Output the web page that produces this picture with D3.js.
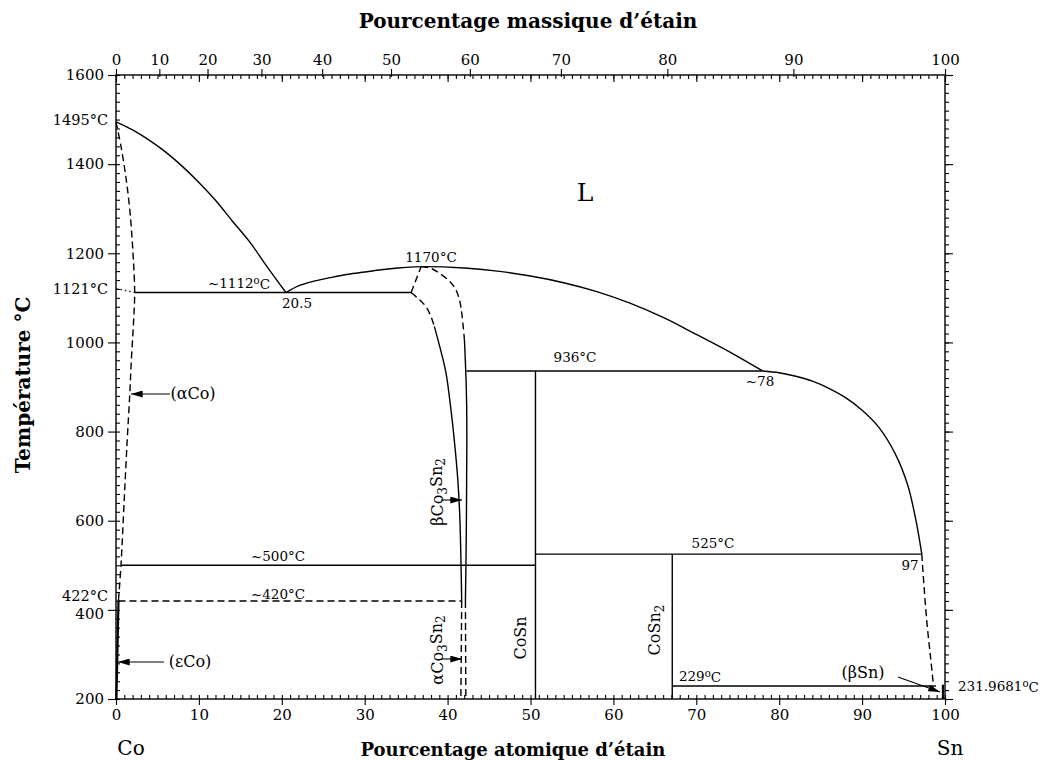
<!DOCTYPE html>
<html><head><meta charset="utf-8">
<script src="https://cdn.jsdelivr.net/npm/d3@7"></script>
<style>
body{margin:0;background:#fff}
svg{display:block}
text{font-family:"DejaVu Serif",serif;fill:#000}
</style></head><body>
<svg id="c" width="1043" height="760"></svg>
<script>
// ---------- data ----------
const atTicks = [0,10,20,30,40,50,60,70,80,90,100];
const wtTicks = [0,10,20,30,40,50,60,70,80,90,100];
const tempTicks = [200,400,600,800,1000,1200,1400,1600];

const liquidusCo = [[0,1495],[2,1477],[4,1454],[6,1427],[8,1395],[10,1359],[12,1319],[14,1273],[16.1,1226],[18.3,1168],[20.5,1112]];
const liquidusMid = [[20.5,1112],[22,1127],[24,1138],[26,1146],[28,1153],[30,1158],[32,1163],[34,1167],[36,1169.5],[37,1170],[42,1167],[46,1160],[50,1149],[54,1134],[58,1114],[62,1088],[66,1056],[70,1018],[74,979],[78,936]];
const liquidusSn = [[78,936],[80,932],[82,924],[84,913],[86,897],[88,876],[90,848],[92,810],[94,750],[95.5,680],[96.5,600],[97.2,525]];
const liquidusSnDash = [[97.2,525],[97.5,445],[97.85,365],[98.25,295],[98.6,232]];
const alphaCoSolvus = [[0,1495],[0.6,1440],[1.2,1370],[1.7,1290],[2.05,1200],[2.25,1112],[2.1,1040],[1.85,960],[1.65,880],[1.35,780],[1.0,650],[0.6,500],[0.3,422]];
const epsCo = [[0.05,200],[0.3,422]];
const co3sn2LeftDash = [[35.6,1112],[36.6,1096],[37.4,1080],[38.0,1058],[38.4,1036]];
const co3sn2LeftSolid = [[38.4,1036],[39.2,980],[39.8,932],[40.4,850],[40.8,782],[41.2,700],[41.45,620],[41.6,520],[41.7,420]];
const co3sn2LeftLow = [[41.7,420],[41.6,200]];
const co3sn2Peak = [[35.6,1112],[36.8,1170]];
const co3sn2RightDash = [[36.8,1170],[38.0,1166],[38.8,1158],[40.2,1138],[41.0,1118],[41.5,1090],[41.75,1059],[42.03,1006]];
const co3sn2RightSolid = [[42.03,1006],[42.2,930],[42.3,857],[42.32,780],[42.3,708],[42.25,560],[42.15,420]];
const co3sn2RightLow = [[42.15,420],[42.2,200]];

const isoEut1112 = [[2.25,1112],[35.6,1112]];
const dotted1121 = [[0,1121],[2.25,1112]];
const iso936 = [[42.3,936],[78,936]];
const iso500 = [[0.6,500],[50.6,500]];
const iso420 = [[0.3,420],[41.7,420]];
const iso525 = [[50.6,525],[97.2,525]];
const iso229 = [[67.1,229],[98.9,229]];
const coSnLine = [[50.6,936],[50.6,200]];
const coSn2Line = [[67.1,525],[67.1,200]];
const betaSnLine = [[99.75,232],[99.75,200]];

// ---------- setup ----------
const svg = d3.select("#c");
const X0 = 116, X1 = 945, Y0 = 699, Y1 = 75;
const x = d3.scaleLinear().domain([0,100]).range([X0,X1]);
const y = d3.scaleLinear().domain([200,1600]).range([Y0,Y1]);
const wtToAt = w => { if (w<=0) return 0; if (w>=100) return 100; const a=w/118.71, b=(100-w)/58.933; return 100*a/(a+b); };
const xw = w => x(wtToAt(w));
xw.domain = () => [0,100]; xw.range = () => x.range(); xw.copy = () => xw;

const line = d3.line().x(d=>x(d[0])).y(d=>y(d[1]));
const curve = d3.line().x(d=>x(d[0])).y(d=>y(d[1])).curve(d3.curveCatmullRom.alpha(0.5));

// frame
svg.append("rect").attr("x",X0).attr("y",Y1).attr("width",X1-X0).attr("height",Y0-Y1)
  .attr("fill","none").attr("stroke","#000").attr("stroke-width",1.4);

function styleAxis(g){
  g.select(".domain").remove();
  g.selectAll("line").attr("stroke","#000").attr("stroke-width",1.1);
  g.selectAll("text").attr("font-family","DejaVu Serif, serif").attr("font-size",15).attr("fill","#000");
}
// bottom axis
svg.append("g").attr("transform",`translate(0,${Y0})`)
  .call(d3.axisBottom(x).tickValues(atTicks).tickSize(6).tickPadding(4).tickFormat(d3.format("d"))).call(styleAxis);
svg.append("g").attr("transform",`translate(0,${Y0})`)
  .call(d3.axisTop(x).tickValues(d3.range(0,101)).tickSize(4).tickFormat("")).call(styleAxis);
// top axis: atomic ticks inside
svg.append("g").attr("transform",`translate(0,${Y1})`)
  .call(d3.axisBottom(x).tickValues(d3.range(0,101)).tickSize(4).tickFormat("")).call(styleAxis);
svg.append("g").attr("transform",`translate(0,${Y1})`)
  .call(d3.axisBottom(x).tickValues(atTicks).tickSize(7).tickFormat("")).call(styleAxis);
// top axis: weight ticks outside (crossing the frame slightly)
svg.append("g").attr("transform",`translate(0,${Y1+2})`)
  .call(d3.axisTop(xw).tickValues(wtTicks).tickSize(8).tickPadding(4).tickFormat(d3.format("d"))).call(styleAxis);
// left axis
const leftAx = svg.append("g").attr("transform",`translate(${X0},0)`)
  .call(d3.axisLeft(y).tickValues(tempTicks).tickSize(8).tickPadding(4).tickFormat(d3.format("d"))).call(styleAxis);
leftAx.selectAll(".tick text").filter(d=>d===400).attr("dy","0.6em");
svg.append("g").attr("transform",`translate(${X0},0)`)
  .call(d3.axisRight(y).tickValues(d3.range(200,1601,20)).tickSize(4).tickFormat("")).call(styleAxis);
// right axis
svg.append("g").attr("transform",`translate(${X1},0)`)
  .call(d3.axisRight(y).tickValues(d3.range(200,1601,20)).tickSize(4).tickFormat("")).call(styleAxis);
svg.append("g").attr("transform",`translate(${X1},0)`)
  .call(d3.axisRight(y).tickValues(tempTicks).tickSize(8).tickFormat("")).call(styleAxis);

// ---------- phase boundaries ----------
const g = svg.append("g").attr("fill","none").attr("stroke","#000").attr("stroke-width",1.4);
const solid = (d,gen=curve)=> g.append("path").attr("d",gen(d));
const dashed = (d,gen=curve)=> g.append("path").attr("d",gen(d)).attr("stroke-dasharray","7,4");

solid(liquidusCo); solid(liquidusMid); solid(liquidusSn);
dashed(liquidusSnDash);
dashed(alphaCoSolvus);
solid(epsCo,line).attr("stroke-width",2.2);
dashed(co3sn2LeftDash); solid(co3sn2LeftSolid); dashed(co3sn2LeftLow,line);
dashed(co3sn2Peak,line);
dashed(co3sn2RightDash); solid(co3sn2RightSolid); dashed(co3sn2RightLow,line);
solid(isoEut1112,line);
solid(dotted1121,line).attr("stroke-dasharray","1.5,3").attr("stroke-width",1.3);
solid(iso936,line); solid(iso500,line); dashed(iso420,line); solid(iso525,line); solid(iso229,line);
solid(coSnLine,line); solid(coSn2Line,line);
solid(betaSnLine,line).attr("stroke-width",2.2);

// arrows
const defs = svg.append("defs");
defs.append("marker").attr("id","ah").attr("viewBox","0 0 10 6").attr("refX",10).attr("refY",3)
  .attr("markerWidth",14).attr("markerHeight",7).attr("markerUnits","userSpaceOnUse").attr("orient","auto")
  .append("path").attr("d","M0,0L10,3L0,6Z").attr("fill","#000");
function arrow(x1,y1,x2,y2){ svg.append("line").attr("x1",x1).attr("y1",y1).attr("x2",x2).attr("y2",y2)
  .attr("stroke","#000").attr("stroke-width",1.1).attr("marker-end","url(#ah)"); }

// ---------- labels ----------
function txt(s,px,py,opts={}){
  const t = svg.append("text").attr("x",px).attr("y",py).attr("font-size",opts.size||13.5)
    .attr("text-anchor",opts.anchor||"middle");
  if (opts.rotate) t.attr("transform",`rotate(-90,${px},${py})`);
  if (opts.family) t.attr("font-family",opts.family);
  if (opts.weight) t.attr("font-weight",opts.weight);
  return t;
}
function deg(t,pre,post){ t.append("tspan").text(pre); t.append("tspan").text("o").attr("font-size","0.75em").attr("dy","-0.35em");
  t.append("tspan").text(post).attr("dy","0.35em").attr("font-size","1em"); }

txt("",585,201,{size:25}).text("L");
deg(txt("",239,288),"~1112","C");
txt("",297,308).text("20.5");
txt("",431,262).text("1170°C");
txt("",575,362).text("936°C");
txt("",760,386).text("~78");
txt("",713,548).text("525°C");
txt("",910,570).text("97");
txt("",278,561).text("~500°C");
txt("",278,599).text("~420°C");
deg(txt("",700,681),"229","C");
deg(txt("",958,691,{anchor:"start"}),"231.9681","C");
txt("",108,125,{anchor:"end",size:14.5}).text("1495°C");
txt("",108,294,{anchor:"end",size:14.5}).text("1121°C");
txt("",108,601,{anchor:"end",size:14.5}).text("422°C");
txt("",193,399,{size:16}).text("(αCo)");
txt("",190,667,{size:16}).text("(εCo)");
txt("",863,678,{size:16}).text("(βSn)");
txt("",131,755,{size:20}).text("Co");
txt("",950,755,{size:20}).text("Sn");

// rotated phase labels
function rotLabel(parts,px,py){
  const t = txt("",px,py,{rotate:true,size:16,anchor:"middle"});
  parts.forEach(p=>{ const s=t.append("tspan").text(p[0]); if(p[1]) s.attr("dy",p[1]).attr("font-size",p[2]||"1em"); });
  return t;
}
rotLabel([["βCo"],["3","0.3em","0.75em"],["Sn","-0.3em","1em"],["2","0.3em","0.75em"]],443,492);
rotLabel([["αCo"],["3","0.3em","0.75em"],["Sn","-0.3em","1em"],["2","0.3em","0.75em"]],443,650);
rotLabel([["CoSn"]],526,638);
rotLabel([["CoSn"],["2","0.3em","0.75em"]],660,630);

arrow(170,394,131,394);
arrow(164,662,118,662);
arrow(441,500,462,500);
arrow(441,659,462,659);
arrow(898,677,940,692);

// titles
txt("",528,28,{size:20,family:"Liberation Serif, serif",weight:"bold"}).text("Pourcentage massique d’étain");
txt("",513,756,{size:18,family:"Liberation Serif, serif",weight:"bold"}).text("Pourcentage atomique d’étain");
txt("",30,385,{size:20,family:"Liberation Serif, serif",weight:"bold",rotate:true}).text("Température °C");
</script></body></html>
